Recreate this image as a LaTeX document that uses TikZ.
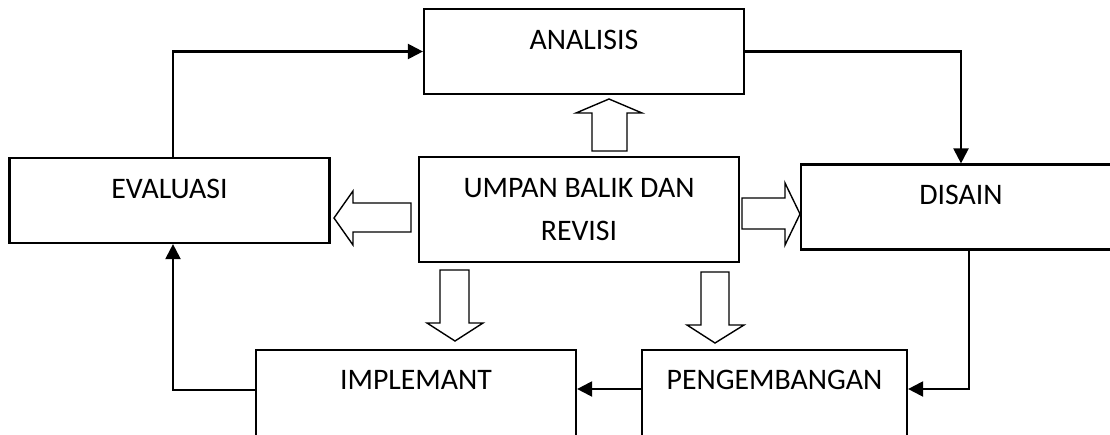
\documentclass[tikz,border=0pt]{standalone}
\usepackage{fontspec}
\setmainfont{Carlito}
\usetikzlibrary{arrows.meta}
\begin{document}
\begin{tikzpicture}[x=1pt,y=-1pt,
  basebox/.style={draw, line width=2.2pt, inner sep=0pt, font=\fontsize{29.8}{43}\selectfont},
  box/.style={basebox, minimum width=320pt, minimum height=85pt, text height=20pt, text depth=25pt},
  lowbox/.style={basebox, minimum width=320pt, minimum height=100pt, text height=20pt, text depth=42pt},
  conn/.style={line width=2.2pt, -{Triangle[length=15pt,width=15pt]}},
  blockarrow/.style={draw, line width=1.4pt, fill=white, line join=miter}]
\clip (0,0) rectangle (1110,434);
\fill[white] (0,0) rectangle (1110,434);
% boxes
\node[box] (ana) at (584,51.5) {ANALISIS};
\node[box] (eva) at (169.5,200.5) {EVALUASI};
\node[box] (dis) at (961,207) {DISAIN};
\node[basebox, minimum width=320pt, minimum height=105pt, align=center] (umb) at (579,209.5) {UMPAN BALIK DAN\\REVISI};
\node[lowbox] (impl) at (416,400) {IMPLEMANT};
\node[lowbox, minimum width=265pt] (peng) at (774.5,400) {PENGEMBANGAN};
% connectors
\draw[conn] ([xshift=3.5pt]eva.north) |- (ana.west);
\draw[conn] (ana.east) -| (dis.north);
\draw[conn] ([xshift=8pt]dis.south) |- ([yshift=11pt]peng.east);
\draw[conn] ([yshift=11pt]peng.west) -- ([yshift=11pt]impl.east);
\draw[conn] ([yshift=10pt]impl.west) -| ([xshift=3.5pt]eva.south);
% block arrows
\draw[blockarrow] (411,203) -- (353,203) -- (353,191) -- (334,218) -- (353,245) -- (353,232) -- (411,232) -- cycle;
\draw[blockarrow] (742,198) -- (785,198) -- (785,183) -- (800,214) -- (785,245) -- (785,229) -- (742,229) -- cycle;
\draw[blockarrow] (592,151) -- (592,113) -- (576,113) -- (609,99) -- (642,113) -- (627,113) -- (627,151) -- cycle;
\draw[blockarrow] (440,270) -- (469,270) -- (469,323) -- (483,323) -- (455,341) -- (427,323) -- (440,323) -- cycle;
\draw[blockarrow] (701,272) -- (729,272) -- (729,325) -- (744,325) -- (715,343) -- (687,325) -- (701,325) -- cycle;
\end{tikzpicture}
\end{document}
